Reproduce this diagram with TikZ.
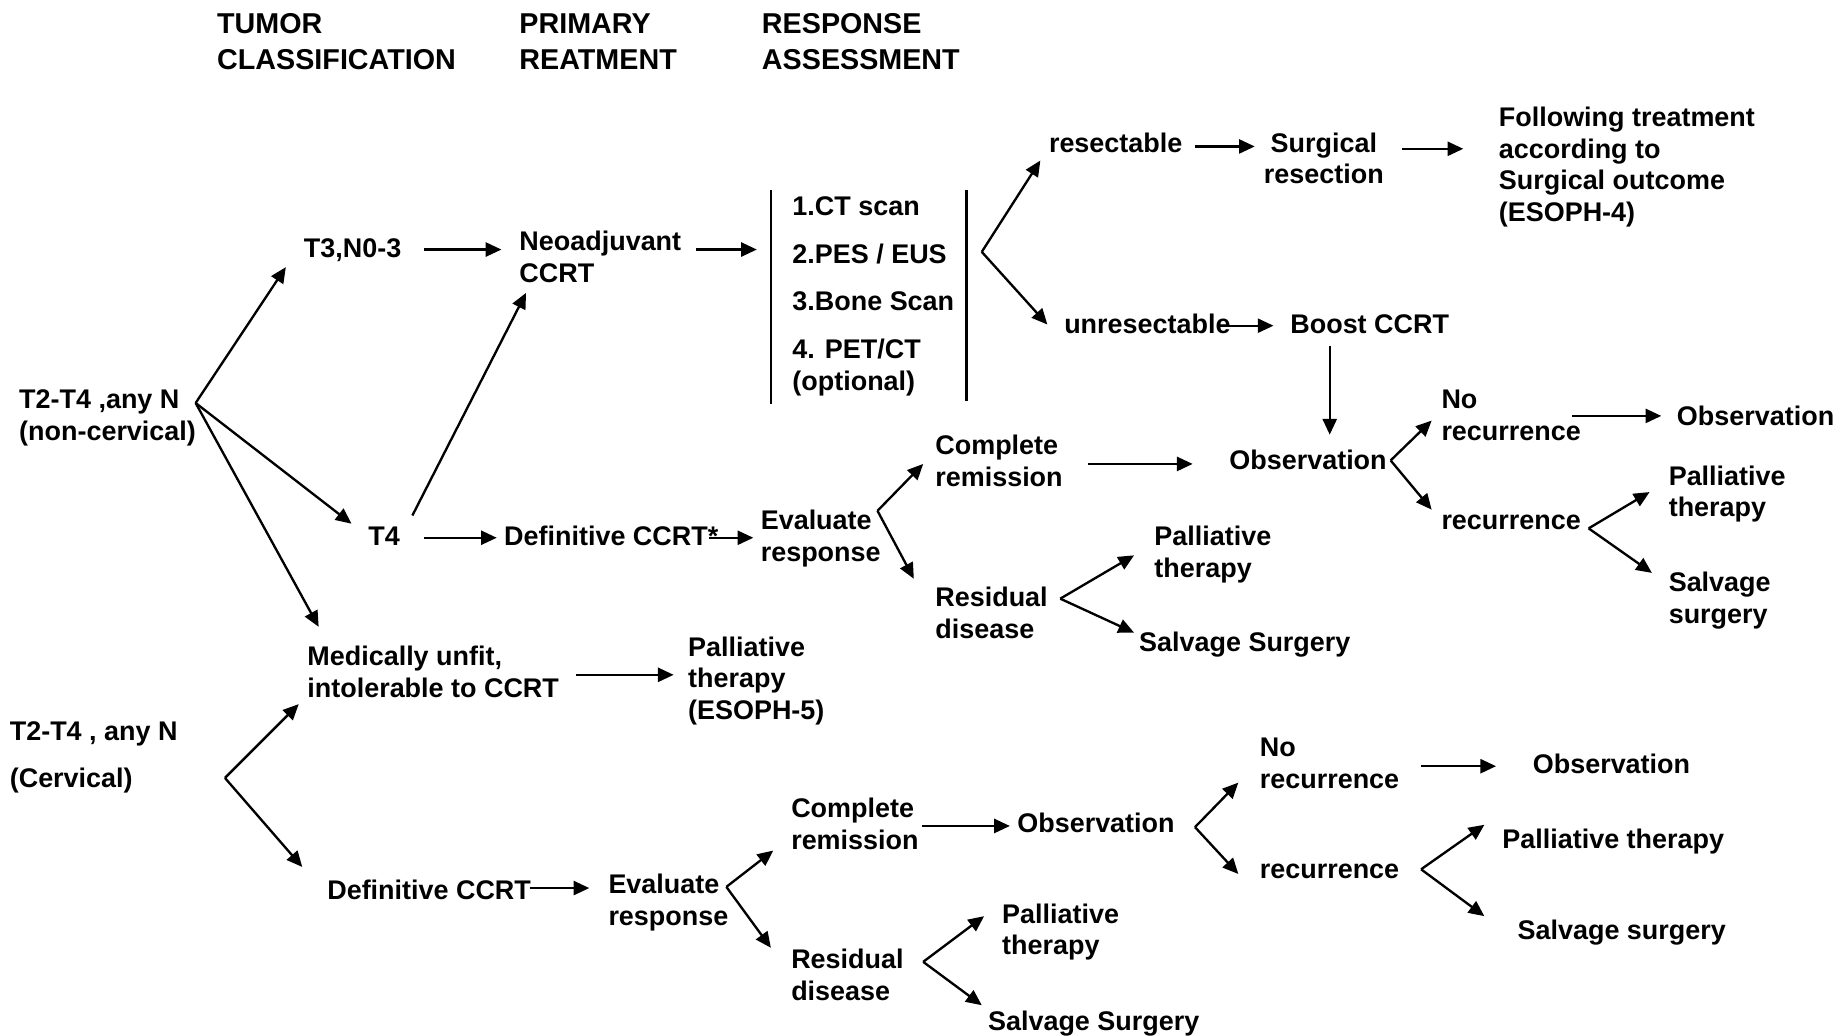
\documentclass[tikz,border=0pt]{standalone}
\usepackage{fontspec}
\setmainfont{Liberation Sans}
\usetikzlibrary{arrows.meta}
\begin{document}
\begin{tikzpicture}[x=0.5pt,y=-0.5pt,
  txt/.style={anchor=base west, inner sep=0pt, align=left, font=\fontsize{11.5}{13.5}\selectfont\bfseries},
  ctxt/.style={txt, anchor=base, align=center},
  head/.style={txt, font=\fontsize{12.25}{15}\selectfont\bfseries},
  arr/.style={-{Triangle[length=6.7pt,width=6pt]}, line width=1pt},
  ln/.style={line width=1pt}]
\useasboundingbox[fill=white] (0,0) rectangle (1568,884);
% headings (anchored at the baseline of the last line)
\node[head] (h1) at (185,59) {TUMOR\\CLASSIFICATION};
\node[head] (h2) at (443,59) {PRIMARY\\REATMENT};
\node[head] (h3) at (650,59) {RESPONSE\\ASSESSMENT};
% upper section
\node[txt] (nc) at (16,376) {T2-T4 ,any N\\(non-cervical)};
\node[txt] (t3) at (259,220) {T3,N0-3};
\node[txt] (neo) at (443,241) {Neoadjuvant\\CCRT};
\node[txt] (list) at (676,333) {1.CT scan\\[6.8pt]2.PES / EUS\\[6.8pt]3.Bone Scan\\[6.8pt]4. PET/CT\\(optional)};
\node[txt] (res) at (895,130) {resectable};
\node[ctxt] (surg) at (1130,157) {Surgical\\resection};
\node[txt] (fol) at (1279,189) {Following treatment\\according to\\Surgical outcome\\(ESOPH-4)};
\node[txt] (unres) at (908,285) {unresectable};
\node[txt] (boost) at (1101,285) {Boost CCRT};
\node[txt] (obs1) at (1049,401) {Observation};
\node[txt] (nor1) at (1230,376) {No\\recurrence};
\node[txt] (obs2) at (1431,363) {Observation};
\node[txt] (rec1) at (1230,452) {recurrence};
\node[txt] (pal1) at (1424,441) {Palliative\\therapy};
\node[txt] (sal1) at (1424,532) {Salvage\\surgery};
\node[txt] (t4) at (314,466) {T4};
\node[txt] (def1) at (430,466) {Definitive CCRT*};
\node[txt] (ev1) at (649,479) {Evaluate\\response};
\node[txt] (cr1) at (798,415) {Complete\\remission};
\node[txt] (rd1) at (798,545) {Residual\\disease};
\node[txt] (pal2) at (985,493) {Palliative\\therapy};
\node[txt] (sal2) at (972,556) {Salvage Surgery};
\node[txt] (mu) at (262,595) {Medically unfit,\\intolerable to CCRT};
\node[txt] (pal3) at (587,614) {Palliative\\therapy\\(ESOPH-5)};
% cervical section
\node[txt] (cerv) at (8,672) {T2-T4 , any N\\[6.5pt](Cervical)};
\node[txt] (def2) at (279,768) {Definitive CCRT};
\node[txt] (ev2) at (519,790) {Evaluate\\response};
\node[txt] (cr2) at (675,725) {Complete\\remission};
\node[txt] (obs3) at (868,711) {Observation};
\node[txt] (nor2) at (1075,673) {No\\recurrence};
\node[txt] (obs4) at (1308,660) {Observation};
\node[txt] (rec2) at (1075,750) {recurrence};
\node[txt] (pal4) at (1282,724) {Palliative therapy};
\node[txt] (sal3) at (1295,802) {Salvage surgery};
\node[txt] (rd2) at (675,854) {Residual\\disease};
\node[txt] (pal5) at (855,815) {Palliative\\therapy};
\node[txt] (sal4) at (843,880) {Salvage Surgery};
% list brackets
\coordinate (lt1) at (658,162); \coordinate (lb1) at (658,345);
\coordinate (lt2) at (825,162); \coordinate (lb2) at (825,342);
\draw[ln] (lt1) -- (lb1);
\draw[ln] (lt2) -- (lb2);
% branch points and arrow ends
\coordinate (b1) at (167,344);
\coordinate (eT3) at (244,228);
\coordinate (eT4) at (300,447);
\coordinate (eMU) at (272,535);
\draw[arr] (b1) -- (eT3);
\draw[arr] (b1) -- (eT4);
\draw[arr] (b1) -- (eMU);
\coordinate (sT4up) at (352,440); \coordinate (eNeo2) at (449,250);
\draw[arr] (sT4up) -- (eNeo2);
\coordinate (sT3) at (362,213); \coordinate (eNeo) at (428,213);
\draw[arr] (sT3) -- (eNeo);
\coordinate (sNeo) at (594,213); \coordinate (eList) at (646,213);
\draw[arr] (sNeo) -- (eList);
\coordinate (b7) at (838,215);
\coordinate (eRes) at (888,137); \coordinate (eUnres) at (894,277);
\draw[arr] (b7) -- (eRes);
\draw[arr] (b7) -- (eUnres);
\coordinate (sRes) at (1020,125); \coordinate (eSurg) at (1071,125);
\draw[arr] (sRes) -- (eSurg);
\coordinate (sSurg) at (1197,127); \coordinate (eFol) at (1249,127);
\draw[arr] (sSurg) -- (eFol);
\coordinate (sUnres) at (1040,278); \coordinate (eBoost) at (1087,278);
\draw[arr] (sUnres) -- (eBoost);
\coordinate (sBoost) at (1135,295); \coordinate (eObs1) at (1135,371);
\draw[arr] (sBoost) -- (eObs1);
\coordinate (b12) at (1187,393);
\coordinate (eNor1) at (1222,359); \coordinate (eRec1) at (1222,435);
\draw[arr] (b12) -- (eNor1);
\draw[arr] (b12) -- (eRec1);
\coordinate (sNor1) at (1342,355); \coordinate (eObs2) at (1418,355);
\draw[arr] (sNor1) -- (eObs2);
\coordinate (b14) at (1356,451);
\coordinate (ePal1) at (1408,420); \coordinate (eSal1) at (1410,489);
\draw[arr] (b14) -- (ePal1);
\draw[arr] (b14) -- (eSal1);
\coordinate (sCr1) at (929,396); \coordinate (eObs1b) at (1018,396);
\draw[arr] (sCr1) -- (eObs1b);
\coordinate (b16) at (749,436);
\coordinate (eCr1) at (788,396); \coordinate (eRd1) at (780,494);
\draw[arr] (b16) -- (eCr1);
\draw[arr] (b16) -- (eRd1);
\coordinate (sT4) at (362,459); \coordinate (eDef1) at (424,459);
\draw[arr] (sT4) -- (eDef1);
\coordinate (sDef1) at (605,459); \coordinate (eEv1) at (643,459);
\draw[arr] (sDef1) -- (eEv1);
\coordinate (b19) at (905,511);
\coordinate (ePal2) at (968,474); \coordinate (eSal2) at (968,540);
\draw[arr] (b19) -- (ePal2);
\draw[arr] (b19) -- (eSal2);
\coordinate (sMu) at (492,576); \coordinate (ePal3) at (575,576);
\draw[arr] (sMu) -- (ePal3);
\coordinate (b21) at (192,664);
\coordinate (eMU2) at (255,601); \coordinate (eDef2) at (258,740);
\draw[arr] (b21) -- (eMU2);
\draw[arr] (b21) -- (eDef2);
\coordinate (sDef2) at (452,758); \coordinate (eEv2) at (503,758);
\draw[arr] (sDef2) -- (eEv2);
\coordinate (b23) at (620,757);
\coordinate (eCr2) at (660,726); \coordinate (eRd2) at (658,809);
\draw[arr] (b23) -- (eCr2);
\draw[arr] (b23) -- (eRd2);
\coordinate (sCr2) at (787,705); \coordinate (eObs3) at (862,705);
\draw[arr] (sCr2) -- (eObs3);
\coordinate (b25) at (1020,706);
\coordinate (eNor2) at (1057,668); \coordinate (eRec2) at (1057,746);
\draw[arr] (b25) -- (eNor2);
\draw[arr] (b25) -- (eRec2);
\coordinate (sNor2) at (1213,654); \coordinate (eObs4) at (1277,654);
\draw[arr] (sNor2) -- (eObs4);
\coordinate (b27) at (1213,742);
\coordinate (ePal4) at (1267,704); \coordinate (eSal3) at (1267,782);
\draw[arr] (b27) -- (ePal4);
\draw[arr] (b27) -- (eSal3);
\coordinate (b28) at (788,821);
\coordinate (ePal5) at (840,782); \coordinate (eSal4) at (838,858);
\draw[arr] (b28) -- (ePal5);
\draw[arr] (b28) -- (eSal4);
\end{tikzpicture}
\end{document}
